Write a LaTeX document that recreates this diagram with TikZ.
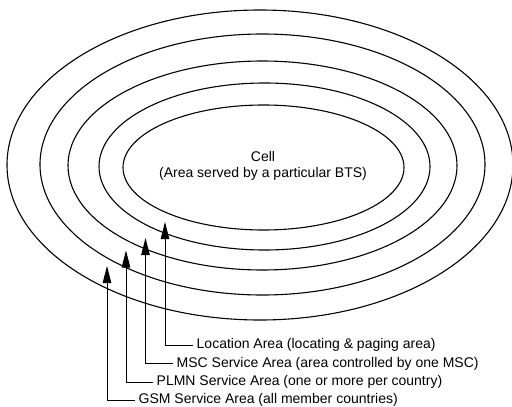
\documentclass[tikz,border=0pt]{standalone}
\usepackage{fontspec}
\setmainfont{Liberation Sans}
\usetikzlibrary{arrows.meta}
\begin{document}
\begin{tikzpicture}[x=1pt,y=-1pt,
  ring/.style={line width=1.1pt},
  lbl/.style={anchor=west,inner xsep=3.5pt,inner ysep=0pt,font=\fontsize{14}{16}\selectfont},
  arr/.style={line width=0.9pt,-{Triangle[length=17pt,width=8.5pt]}}]
\useasboundingbox (0,0) rectangle (512,407);
\clip (0,0) rectangle (512,407);
% nested areas
\draw[ring] (263.5,167.5) ellipse [x radius=140.5, y radius=62.5];
\draw[ring] (264.5,166.5) ellipse [x radius=165.5, y radius=83.5];
\draw[ring] (262.5,165.5) ellipse [x radius=194.5, y radius=104.5];
\draw[ring] (262.5,164.5) ellipse [x radius=222.5, y radius=130.5];
\draw[ring] (260,165) ellipse [x radius=253, y radius=155];
% cell label
\node[align=center,font=\fontsize{14}{16}\selectfont] (cell) at (263,166) {Cell\\(Area served by a particular BTS)};
% arrow tips
\coordinate (tloc) at (165,222);
\coordinate (tmsc) at (145.5,238);
\coordinate (tplmn) at (126,250.5);
\coordinate (tgsm) at (107,266);
% labels
\node[lbl] (loc) at (193,345) {Location Area (locating \& paging area)};
\node[lbl] (msc) at (173,363.5) {MSC Service Area (area controlled by one MSC)};
\node[lbl] (plmn) at (153,382) {PLMN Service Area (one or more per country)};
\node[lbl] (gsm) at (135,400) {GSM Service Area (all member countries)};
% connectors
\draw[arr] (loc.west) -| (tloc);
\draw[arr] (msc.west) -| (tmsc);
\draw[arr] (plmn.west) -| (tplmn);
\draw[arr] (gsm.west) -| (tgsm);
\end{tikzpicture}
\end{document}
